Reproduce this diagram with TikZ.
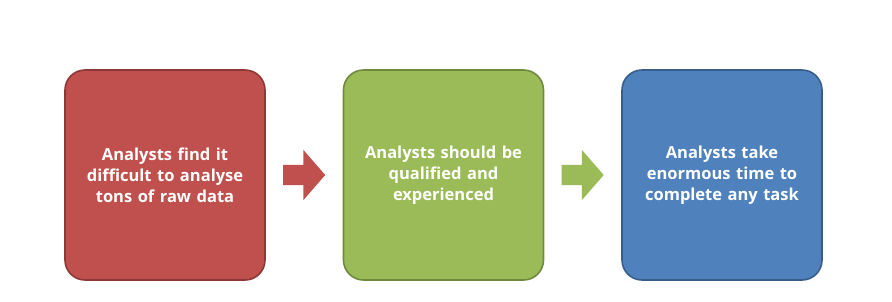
\documentclass[tikz,border=0pt]{standalone}
\usepackage{fontspec}
\setmainfont{Open Sans}
\usetikzlibrary{positioning,calc,shapes.arrows}
\definecolor{anred}{HTML}{C0504D}
\definecolor{anredline}{HTML}{8C3836}
\definecolor{angreen}{HTML}{9BBB59}
\definecolor{angreenline}{HTML}{71893F}
\definecolor{anblue}{HTML}{4F81BD}
\definecolor{anblueline}{HTML}{385D8A}

\begin{document}
\begin{tikzpicture}[
  x=1pt, y=-1pt,
  node distance=78.5pt,
  stage/.style={
    rounded corners=20pt, line width=1.6pt, outer sep=0pt,
    font=\fontsize{16.5}{21}\selectfont\bfseries, text=white,
    align=center, text width=176pt,
    minimum width=200pt, minimum height=210pt
  },
  flow/.style={
    single arrow, draw=none, inner xsep=0pt, inner ysep=10pt,
    minimum height=42pt, anchor=tail,
    single arrow head extend=15pt, single arrow tip angle=98
  },
]

  % Fond et marges
  \useasboundingbox (0,0) rectangle (892,301);

  % Les trois etapes
  \node[stage, fill=anred, draw=anredline] (find) at (165,175)
    {Analysts find it\\difficult to analyse\\tons of raw data};
  \node[stage, fill=angreen, draw=angreenline, right=of find] (qual)
    {Analysts should be\\qualified and\\experienced};
  \node[stage, fill=anblue, draw=anblueline, right=of qual] (time)
    {Analysts take\\enormous time to\\complete any task};

  % Fleches entre les etapes
  \node[flow, fill=anred] (arrA) at ($(find.east)+(18,0)$) {};
  \node[flow, fill=angreen] (arrB) at ($(qual.east)+(18,0)$) {};

\end{tikzpicture}
\end{document}
